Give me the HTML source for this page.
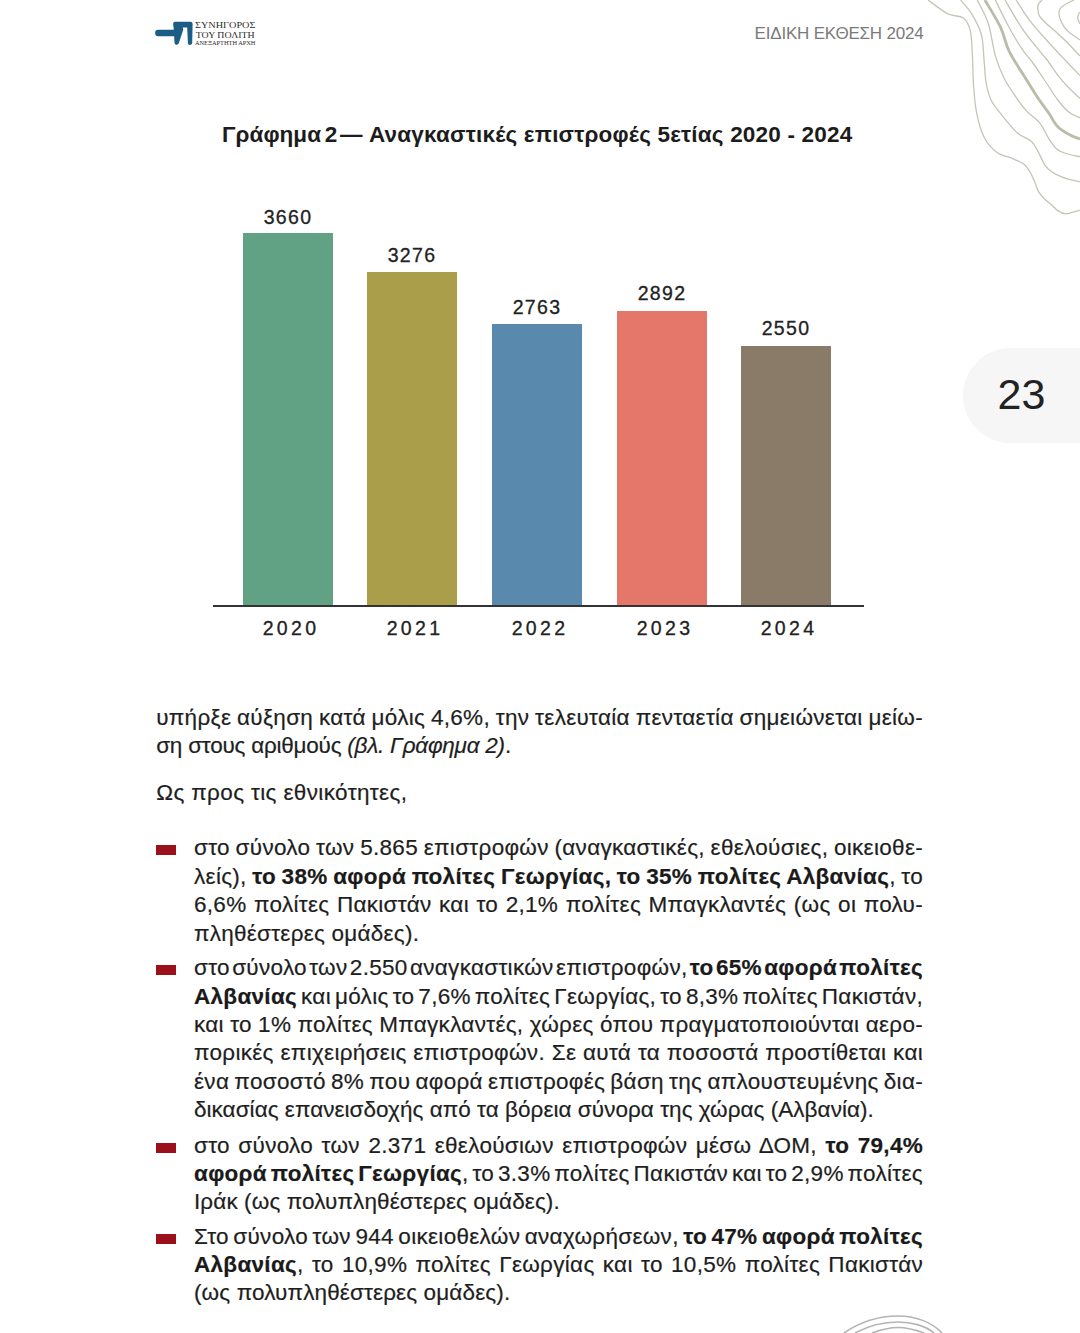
<!DOCTYPE html>
<html><head><meta charset="utf-8">
<style>
html,body{margin:0;padding:0;background:#fff;}
body{width:1080px;height:1333px;position:relative;overflow:hidden;font-family:"Liberation Sans",sans-serif;color:#1e1e1e;}
.a{position:absolute;}
.ln{position:absolute;white-space:nowrap;font-size:22.5px;line-height:28px;text-align:justify;text-align-last:justify;-webkit-text-stroke:0.2px #1e1e1e;}
.j{word-spacing:-5px;letter-spacing:0.3px;}
.l{left:156.2px;width:766.8px;}
.r{left:194px;width:729px;}
.nl{text-align-last:left;}
.mk{position:absolute;left:156px;width:20px;height:10px;background:#9a111b;}
b{font-weight:bold;color:#1a1a1a;}
.bar{position:absolute;width:90px;bottom:728px;}
.val{position:absolute;width:90px;text-align:center;font-size:19.5px;letter-spacing:1.3px;color:#222;margin-top:-0.2px;-webkit-text-stroke:0.3px #222;}
.yr{position:absolute;width:90px;text-align:center;font-size:19.5px;letter-spacing:3.3px;color:#222;top:617px;margin-left:3px;-webkit-text-stroke:0.3px #222;}
</style></head><body>
<!-- contour lines top right -->
<svg class="a" style="left:0;top:0" width="1080" height="1333" viewBox="0 0 1080 1333">
<g fill="none" stroke="#c3c5b8" stroke-width="1.3">
<path d="M928.0,0.0 C931.3,2.3 942.1,10.9 948.0,13.9 C953.9,16.9 959.6,15.2 963.3,18.0 C967.0,20.8 968.8,24.3 970.3,30.6 C971.8,36.9 971.9,46.5 972.4,55.6 C972.9,64.7 972.8,75.4 973.5,85.0 C974.2,94.6 974.9,104.5 976.7,113.3 C978.5,122.1 981.1,131.3 984.4,137.8 C987.7,144.3 991.9,148.7 996.7,152.2 C1001.5,155.7 1008.7,156.9 1013.3,158.9 C1017.9,160.9 1021.6,162.2 1024.4,164.4 C1027.2,166.6 1028.3,169.2 1030.0,172.0 C1031.7,174.8 1033.0,177.9 1034.4,181.1 C1035.8,184.3 1036.7,188.2 1038.3,191.1 C1039.9,194.0 1041.8,196.1 1043.9,198.3 C1046.0,200.5 1048.8,202.4 1051.1,204.4 C1053.4,206.4 1055.4,209.0 1057.8,210.6 C1060.2,212.2 1063.1,213.6 1065.6,213.9 C1068.1,214.2 1070.4,212.8 1072.8,212.2 C1075.2,211.5 1078.8,210.4 1080.0,210.0"/>
<path d="M960.6,0.0 C962.5,2.3 968.2,8.1 971.7,13.9 C975.2,19.7 979.3,26.7 981.4,34.7 C983.5,42.7 983.4,54.1 984.2,62.0 C985.0,69.9 984.9,75.7 986.0,82.0 C987.1,88.3 988.4,94.4 991.1,100.0 C993.8,105.6 997.8,110.0 1002.2,115.6 C1006.7,121.1 1013.0,129.1 1017.8,133.3 C1022.6,137.6 1027.8,138.1 1031.1,141.1 C1034.4,144.1 1035.6,147.2 1037.8,151.1 C1040.0,155.0 1042.5,161.2 1044.4,164.4 C1046.3,167.6 1047.5,168.3 1049.4,170.0 C1051.4,171.7 1053.1,172.9 1056.1,174.4 C1059.1,175.9 1063.2,177.7 1067.2,178.9 C1071.2,180.1 1077.9,181.2 1080.0,181.7"/>
<path d="M977.2,0.0 C979.1,3.9 985.3,14.3 988.3,23.6 C991.3,32.9 992.7,46.5 995.3,55.6 C997.9,64.7 1000.6,71.2 1004.0,78.0 C1007.4,84.8 1011.8,91.2 1015.6,96.7 C1019.4,102.2 1022.6,106.7 1026.7,111.1 C1030.8,115.5 1036.3,118.7 1040.0,123.3 C1043.7,127.9 1046.1,134.6 1048.9,138.9 C1051.7,143.2 1053.9,146.5 1056.7,148.9 C1059.5,151.3 1062.1,152.2 1066.0,153.5 C1069.9,154.8 1077.7,156.2 1080.0,156.7"/>
<path d="M984.9,0.0 C987.5,4.6 996.8,19.2 1000.8,27.8 C1004.8,36.4 1005.0,42.9 1009.2,51.4 C1013.4,59.9 1021.2,71.3 1026.0,79.0 C1030.8,86.7 1034.0,92.1 1037.8,97.8 C1041.6,103.5 1045.6,108.5 1048.9,113.3 C1052.2,118.1 1054.1,123.0 1057.8,126.7 C1061.5,130.4 1067.4,133.6 1071.1,135.6 C1074.8,137.6 1078.5,138.3 1080.0,138.9" stroke-width="2.8" stroke="#b9bca8"/>
<path d="M995.3,0.0 C997.4,4.2 1003.4,16.9 1007.8,25.0 C1012.2,33.1 1017.6,42.4 1021.7,48.6 C1025.8,54.8 1028.4,56.8 1032.2,62.0 C1036.0,67.2 1040.1,73.7 1044.4,80.0 C1048.7,86.3 1053.7,94.6 1057.8,100.0 C1061.9,105.4 1065.2,109.2 1068.9,112.2 C1072.6,115.2 1078.2,116.9 1080.0,117.8"/>
<path d="M1005.0,0.0 C1007.8,4.6 1015.7,19.0 1021.7,27.8 C1027.7,36.6 1036.8,47.4 1041.1,52.8 C1045.3,58.2 1044.2,56.0 1047.2,60.0 C1050.2,64.0 1055.4,72.2 1058.9,76.7 C1062.4,81.2 1064.5,83.4 1068.0,87.0 C1071.5,90.6 1078.0,96.5 1080.0,98.4"/>
<path d="M1016.1,0.0 C1018.4,3.5 1024.7,13.9 1030.0,20.8 C1035.3,27.8 1042.0,35.0 1048.0,41.7 C1054.0,48.4 1060.7,55.4 1066.0,61.0 C1071.3,66.7 1077.7,73.2 1080.0,75.6"/>
<path d="M1042,0 C1039,3 1037,5 1038,9 C1038,13 1039,16 1041,18 C1045,23 1050,27 1055,31 C1063,38 1072,47 1080,56"/>
<path d="M1074,0 C1068,3 1062,5 1060,9 C1058,13 1059,17 1061,21 C1063,26 1066,30 1070,33 L1080,40"/>
<path d="M1080,12 C1078,14 1077,18 1079,22 L1080,24"/>
</g>
<g fill="none" stroke="#b4b4b4" stroke-width="1.6">
<path d="M844,1333 C860,1322 880,1316 898,1316 C915,1316 932,1322 942,1333"/>
<path d="M855,1333 C868,1326 884,1322 898,1322 C912,1322 926,1326 934,1333"/>
<path d="M872,1333 C880,1330 889,1327.5 898,1327.5 C907,1327.5 916,1330 924,1333"/>
</g>
</svg>

<!-- logo -->
<svg class="a" style="left:150px;top:15px" width="110" height="34" viewBox="0 0 110 34">
<g fill="#1b5d84">
<rect x="5.1" y="14.8" width="23" height="6.5" rx="3.2"/>
<path d="M25,6.7 L40.5,6.7 Q42.6,6.7 42.6,9 L42.2,28 Q41.8,30.1 39.8,30.1 Q37.9,30 37.9,28 L37.2,12.5 L32.8,12.5 L33.3,14.5 L28.8,28.3 Q28,30 26.2,29.7 Q24.4,29.2 24.5,27.5 L23.6,12.5 L23.1,9 Q23.1,6.7 25,6.7 Z"/>
</g>
<text x="45" y="13.1" font-family="Liberation Serif" font-size="9" fill="#2a2a2a" textLength="60.4" lengthAdjust="spacingAndGlyphs">ΣΥΝΗΓΟΡΟΣ</text>
<text x="45.7" y="23" font-family="Liberation Serif" font-size="9" fill="#2a2a2a" textLength="59" lengthAdjust="spacingAndGlyphs">ΤΟΥ ΠΟΛΙΤΗ</text>
<text x="45" y="30.1" font-family="Liberation Serif" font-size="6" fill="#2a2a2a" textLength="60.4" lengthAdjust="spacingAndGlyphs">ΑΝΕΞΑΡΤΗΤΗ ΑΡΧΗ</text>
</svg>

<div class="a" style="right:156.5px;top:23.8px;font-size:17px;color:#7a7a7a;letter-spacing:-0.2px;">ΕΙΔΙΚΗ ΕΚΘΕΣΗ 2024</div>

<div class="a" style="left:0;top:122px;font-size:22.5px;font-weight:bold;color:#1c1c1c;white-space:nowrap;">
<span class="a" id="t1" style="left:222px;letter-spacing:0.05px;word-spacing:-2.5px">Γράφημα 2</span>
<span class="a" id="t2" style="left:340px;">—</span>
<span class="a" id="t3" style="left:369px;letter-spacing:0.2px">Αναγκαστικές επιστροφές 5ετίας 2020 - 2024</span>
</div>

<!-- page number bubble -->
<div class="a" style="left:963px;top:348px;width:160px;height:95px;border-radius:48px;background:#f6f6f6;"></div>
<div class="a" style="left:963px;width:117px;top:370px;text-align:center;font-size:43px;color:#222;">23</div>

<!-- chart -->
<div class="bar" style="left:243px;top:233px;height:372px;background:#62a284;"></div>
<div class="bar" style="left:367px;top:272px;height:333px;background:#ab9e4b;"></div>
<div class="bar" style="left:492px;top:324px;height:281px;background:#5a89ae;"></div>
<div class="bar" style="left:617px;top:311px;height:294px;background:#e5766a;"></div>
<div class="bar" style="left:741px;top:346px;height:259px;background:#8a7b69;"></div>
<div class="a" style="left:213px;top:605px;width:651px;height:2px;background:#333;"></div>
<div class="val" style="left:243px;top:206px;">3660</div>
<div class="val" style="left:367px;top:244px;">3276</div>
<div class="val" style="left:492px;top:296px;">2763</div>
<div class="val" style="left:617px;top:282px;">2892</div>
<div class="val" style="left:741px;top:317px;">2550</div>
<div class="yr" style="left:243px;">2020</div>
<div class="yr" style="left:367px;">2021</div>
<div class="yr" style="left:492px;">2022</div>
<div class="yr" style="left:617px;">2023</div>
<div class="yr" style="left:741px;">2024</div>

<!-- body text -->
<div id="body">
<div class="ln l j" style="top:703.9px">υπήρξε αύξηση κατά μόλις 4,6%, την τελευταία πενταετία σημειώνεται μείω-</div>
<div class="ln l nl" style="top:732.1px;letter-spacing:-0.23px">ση στους αριθμούς <i>(βλ. Γράφημα 2)</i>.</div>
<div class="ln l nl" style="top:778.9px;letter-spacing:0.37px">Ως προς τις εθνικότητες,</div>
<div class="mk" style="top:845px"></div>
<div class="ln r j" style="top:833.5px">στο σύνολο των 5.865 επιστροφών (αναγκαστικές, εθελούσιες, οικειοθε-</div>
<div class="ln r j" style="top:863.0px">λείς), <b>το 38% αφορά πολίτες Γεωργίας, το 35% πολίτες Αλβανίας</b>, το</div>
<div class="ln r j" style="top:890.5px">6,6% πολίτες Πακιστάν και το 2,1% πολίτες Μπαγκλαντές (ως οι πολυ-</div>
<div class="ln r nl" style="top:919.8px;letter-spacing:0.25px">πληθέστερες ομάδες).</div>
<div class="mk" style="top:965px"></div>
<div class="ln r j" style="top:954.1px">στο σύνολο των 2.550 αναγκαστικών επιστροφών, <b>το 65% αφορά πολίτες</b></div>
<div class="ln r j" style="top:982.6px"><b>Αλβανίας</b> και μόλις το 7,6% πολίτες Γεωργίας, το 8,3% πολίτες Πακιστάν,</div>
<div class="ln r j" style="top:1011.0px">και το 1% πολίτες Μπαγκλαντές, χώρες όπου πραγματοποιούνται αερο-</div>
<div class="ln r j" style="top:1039.4px">πορικές επιχειρήσεις επιστροφών. Σε αυτά τα ποσοστά προστίθεται και</div>
<div class="ln r j" style="top:1067.8px">ένα ποσοστό 8% που αφορά επιστροφές βάση της απλουστευμένης δια-</div>
<div class="ln r nl" style="top:1096.2px;letter-spacing:0.04px">δικασίας επανεισδοχής από τα βόρεια σύνορα της χώρας (Αλβανία).</div>
<div class="mk" style="top:1143px"></div>
<div class="ln r j" style="top:1131.6px">στο σύνολο των 2.371 εθελούσιων επιστροφών μέσω ΔΟΜ, <b>το 79,4%</b></div>
<div class="ln r j" style="top:1159.8px"><b>αφορά πολίτες Γεωργίας</b>, το 3.3% πολίτες Πακιστάν και το 2,9% πολίτες</div>
<div class="ln r nl" style="top:1188.0px;letter-spacing:0.11px">Ιράκ (ως πολυπληθέστερες ομάδες).</div>
<div class="mk" style="top:1234px"></div>
<div class="ln r j" style="top:1223.1px">Στο σύνολο των 944 οικειοθελών αναχωρήσεων, <b>το 47% αφορά πολίτες</b></div>
<div class="ln r j" style="top:1251.0px"><b>Αλβανίας</b>, το 10,9% πολίτες Γεωργίας και το 10,5% πολίτες Πακιστάν</div>
<div class="ln r nl" style="top:1278.9px;letter-spacing:0.13px">(ως πολυπληθέστερες ομάδες).</div>
</div>
</body></html>
